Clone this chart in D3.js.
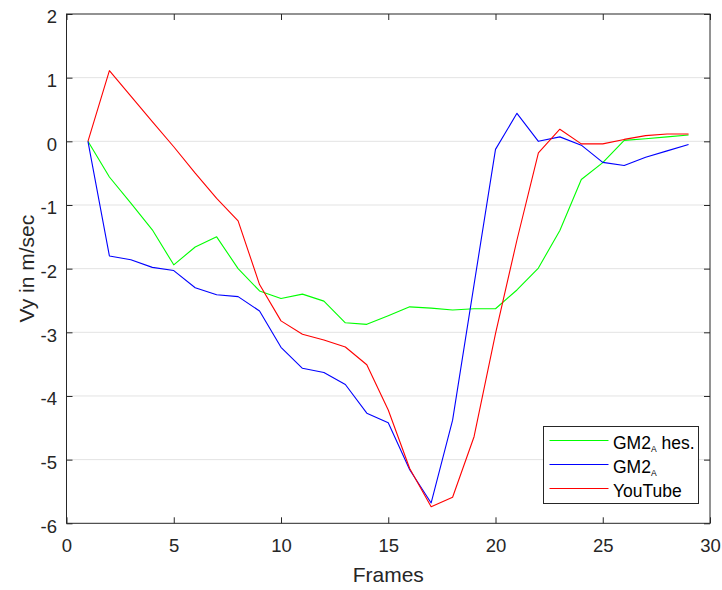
<!DOCTYPE html>
<html>
<head>
<meta charset="utf-8">
<script src="https://cdn.jsdelivr.net/npm/d3@7"></script>
<style>
  html, body { margin: 0; padding: 0; background: #fff; }
  svg { display: block; font-family: "Liberation Sans", Arial, sans-serif; }
</style>
</head>
<body>
<svg id="chart" width="722" height="590"></svg>
<script>
// Frame numbers and vertical velocity (m/s) per series
const frames = [1,2,3,4,5,6,7,8,9,10,11,12,13,14,15,16,17,18,19,20,21,22,23,24,25,26,27,28,29];
const gm2aHes = [0,-0.56,-0.97,-1.39,-1.94,-1.66,-1.50,-2.00,-2.35,-2.47,-2.40,-2.51,-2.85,-2.875,-2.74,-2.60,-2.62,-2.65,-2.63,-2.63,-2.335,-1.99,-1.40,-0.60,-0.335,0.015,0.04,0.07,0.10];
const gm2a = [0,-1.80,-1.86,-1.98,-2.03,-2.30,-2.41,-2.44,-2.665,-3.235,-3.565,-3.63,-3.82,-4.27,-4.42,-5.16,-5.68,-4.38,-2.25,-0.126,0.44,0.0,0.07,-0.06,-0.33,-0.38,-0.25,-0.15,-0.05];
const youtube = [0,1.11,0.71,0.31,-0.085,-0.50,-0.895,-1.25,-2.25,-2.82,-3.03,-3.12,-3.23,-3.51,-4.22,-5.14,-5.74,-5.59,-4.64,-3.02,-1.55,-0.18,0.19,-0.04,-0.04,0.03,0.09,0.115,0.115];
const xTicks = [0,5,10,15,20,25,30];
const yTicks = [-6,-5,-4,-3,-2,-1,0,1,2];

const series = [
  { name: "GM2", sub: "A", suffix: " hes.", values: gm2aHes, color: "#00ff00" },
  { name: "GM2", sub: "A", suffix: "", values: gm2a, color: "#0000ff" },
  { name: "YouTube", sub: "", suffix: "", values: youtube, color: "#ff0000" }
];

const svg = d3.select("#chart");
const plotL = 66.5, plotR = 710, plotT = 14, plotB = 523.3;
const axisColor = "#262626";

const x = d3.scaleLinear().domain([0, 30]).range([plotL, plotR]);
const y = d3.scaleLinear().domain([-6, 2]).range([plotB, plotT]);

// horizontal grid
svg.append("g")
  .selectAll("line")
  .data(yTicks.filter(t => t > -6 && t < 2))
  .join("line")
  .attr("x1", plotL).attr("x2", plotR)
  .attr("y1", d => y(d)).attr("y2", d => y(d))
  .attr("stroke", "#e3e3e3").attr("stroke-width", 1);

// axes with inward ticks
function styleAxis(g) {
  g.select(".domain").remove();
  g.selectAll(".tick line").attr("stroke", axisColor);
  g.selectAll(".tick text").attr("fill", axisColor).attr("font-size", 18.5);
}
svg.append("g").attr("transform", `translate(0,${plotB})`)
  .call(d3.axisBottom(x).tickValues(xTicks).tickSize(-6).tickPadding(16).tickFormat(d3.format("d")))
  .call(styleAxis);
svg.append("g").attr("transform", `translate(0,${plotT})`)
  .call(d3.axisTop(x).tickValues(xTicks).tickSize(-6).tickFormat(""))
  .call(styleAxis);
svg.append("g").attr("transform", `translate(${plotL},0)`)
  .call(d3.axisLeft(y).tickValues(yTicks).tickSize(-6).tickPadding(9.5).tickFormat(d3.format("d")))
  .call(styleAxis)
  .call(g => g.selectAll(".tick text").attr("dy", "0.48em"));
svg.append("g").attr("transform", `translate(${plotR},0)`)
  .call(d3.axisRight(y).tickValues(yTicks).tickSize(-6).tickFormat(""))
  .call(styleAxis);

// minus sign as hyphen
svg.selectAll(".tick text").text(function() { return d3.select(this).text().replace("−", "-"); });

// box
svg.append("rect")
  .attr("x", plotL).attr("y", plotT)
  .attr("width", plotR - plotL).attr("height", plotB - plotT)
  .attr("fill", "none").attr("stroke", axisColor).attr("stroke-width", 1);

// lines
const line = d3.line().x((d, i) => x(frames[i])).y(d => y(d));
svg.append("g").selectAll("path")
  .data(series)
  .join("path")
  .attr("d", d => line(d.values))
  .attr("fill", "none")
  .attr("stroke", d => d.color)
  .attr("stroke-width", 1.1)
  .attr("stroke-linejoin", "round");

// axis titles
svg.append("text")
  .attr("x", (plotL + plotR) / 2).attr("y", 582.3)
  .attr("text-anchor", "middle").attr("font-size", 21).attr("fill", axisColor)
  .text("Frames");
svg.append("text")
  .attr("transform", `translate(33.5,${(plotT + plotB) / 2}) rotate(-90)`)
  .attr("text-anchor", "middle").attr("font-size", 21).attr("fill", axisColor)
  .text("Vy in m/sec");

// legend
const lg = svg.append("g");
lg.append("rect")
  .attr("x", 543.5).attr("y", 426.5).attr("width", 155).attr("height", 77)
  .attr("fill", "#fff").attr("stroke", axisColor).attr("stroke-width", 1);
series.forEach((s, i) => {
  const yy = 440.5 + i * 24;
  lg.append("line")
    .attr("x1", 549.5).attr("x2", 608.5).attr("y1", yy).attr("y2", yy)
    .attr("stroke", s.color).attr("stroke-width", 1);
  const t = lg.append("text")
    .attr("x", 613).attr("y", yy + 8.8)
    .attr("font-size", 17.5).attr("fill", "#000");
  t.append("tspan").text(s.name);
  if (s.sub) {
    t.append("tspan").attr("font-size", 8.5).attr("dy", 3).text(s.sub);
    t.append("tspan").attr("dy", -3).text(s.suffix);
  }
});
</script>
</body>
</html>
